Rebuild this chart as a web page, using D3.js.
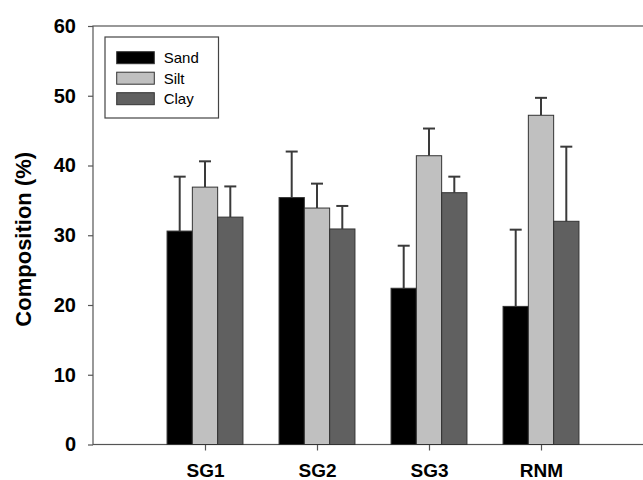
<!DOCTYPE html>
<html>
<head>
<meta charset="utf-8">
<script src="https://cdn.jsdelivr.net/npm/d3@7"></script>
<style>
  body { margin: 0; background: #fff; }
  text { font-family: "Liberation Sans", Arial, sans-serif; }
</style>
</head>
<body>
<div class="canvas"></div>
<script>
// data
const sites = ['SG1', 'SG2', 'SG3', 'RNM'];
const fractions = ['Sand', 'Silt', 'Clay'];
const sand = [30.6, 35.4, 22.4, 19.8];
const silt = [36.9, 33.9, 41.4, 47.2];
const clay = [32.6, 30.9, 36.1, 32.0];
const sandErr = [7.8, 6.6, 6.1, 11.0];
const siltErr = [3.7, 3.5, 3.9, 2.5];
const clayErr = [4.4, 3.3, 2.3, 10.7];
const yTicks = [0, 10, 20, 30, 40, 50, 60];

const colours = { Sand: '#000000', Silt: '#c0c0c0', Clay: '#606060' };

const rows = sites.map((s, i) => ({
  site: s,
  vals: [
    { key: 'Sand', v: sand[i], e: sandErr[i] },
    { key: 'Silt', v: silt[i], e: siltErr[i] },
    { key: 'Clay', v: clay[i], e: clayErr[i] }
  ]
}));

const dims = { width: 643, height: 480 };
const plot = { left: 93, right: 653, top: 26, bottom: 444.5 };

const svg = d3.select('.canvas')
  .append('svg')
  .attr('width', dims.width)
  .attr('height', dims.height);

// x positions: categories sit at 1..4 on a 0..5 axis
const x = d3.scaleLinear().domain([0, 5]).range([plot.left, plot.right]);
const y = d3.scaleLinear().domain([0, 60]).range([plot.bottom, plot.top]);
const barW = 25.3;
const inner = d3.scaleBand().domain(fractions).range([-1.5 * barW, 1.5 * barW]);

// frame
svg.append('rect')
  .attr('x', plot.left).attr('y', plot.top)
  .attr('width', plot.right - plot.left).attr('height', plot.bottom - plot.top)
  .attr('fill', 'none').attr('stroke', '#555').attr('stroke-width', 1.2);

// y axis
const yAxis = svg.append('g')
  .attr('transform', `translate(${plot.left},0)`)
  .call(d3.axisLeft(y).tickValues(yTicks).tickSize(5).tickPadding(12));
yAxis.select('.domain').remove();
yAxis.selectAll('line').attr('stroke', '#555').attr('stroke-width', 1.2);
yAxis.selectAll('text')
  .attr('font-size', 20).attr('font-weight', 'bold').attr('fill', '#000')
  .style('font-family', '"Liberation Sans", Arial, sans-serif');

// x axis
const xAxis = svg.append('g')
  .attr('transform', `translate(0,${plot.bottom})`)
  .call(d3.axisBottom(x).tickValues([1, 2, 3, 4]).tickFormat(d => sites[d - 1]).tickSize(6).tickPadding(13));
xAxis.select('.domain').remove();
xAxis.selectAll('line').attr('stroke', '#555').attr('stroke-width', 1.2);
xAxis.selectAll('text')
  .attr('font-size', 19).attr('font-weight', 'bold').attr('fill', '#000')
  .style('font-family', '"Liberation Sans", Arial, sans-serif');

// y label
svg.append('text')
  .attr('transform', `translate(31,${(plot.top + plot.bottom) / 2 + 4}) rotate(-90)`)
  .attr('text-anchor', 'middle')
  .attr('font-size', 22)
  .attr('font-weight', 'bold')
  .text('Composition (%)');

// bars
const groups = svg.selectAll('.group').data(rows).enter().append('g')
  .attr('class', 'group')
  .attr('transform', (d, i) => `translate(${x(i + 1)},0)`);

const bars = groups.selectAll('.bar').data(d => d.vals).enter();

// error bars (upper only)
bars.append('line')
  .attr('x1', d => inner(d.key) + barW / 2).attr('x2', d => inner(d.key) + barW / 2)
  .attr('y1', d => y(d.v)).attr('y2', d => y(d.v + d.e))
  .attr('stroke', '#3a3a3a').attr('stroke-width', 2);
bars.append('line')
  .attr('x1', d => inner(d.key) + barW / 2 - 6).attr('x2', d => inner(d.key) + barW / 2 + 6)
  .attr('y1', d => y(d.v + d.e)).attr('y2', d => y(d.v + d.e))
  .attr('stroke', '#3a3a3a').attr('stroke-width', 2);

bars.append('rect')
  .attr('class', 'bar')
  .attr('x', d => inner(d.key))
  .attr('y', d => y(d.v))
  .attr('width', barW)
  .attr('height', d => y(0) - y(d.v))
  .attr('fill', d => colours[d.key])
  .attr('stroke', '#333')
  .attr('stroke-width', 1);

// legend
const legend = svg.append('g').attr('transform', 'translate(105,37)');
legend.append('rect')
  .attr('width', 113.5).attr('height', 81)
  .attr('fill', '#fff').attr('stroke', '#444').attr('stroke-width', 1.2);
const items = legend.selectAll('.item').data(fractions).enter().append('g')
  .attr('transform', (d, i) => `translate(11.7,${14.7 + i * 20.5})`);
items.append('rect')
  .attr('width', 37.6).attr('height', 12)
  .attr('fill', d => colours[d]).attr('stroke', '#333').attr('stroke-width', 1);
items.append('text')
  .attr('x', 47).attr('y', 11.5)
  .attr('font-size', 15)
  .text(d => d);
</script>
</body>
</html>
